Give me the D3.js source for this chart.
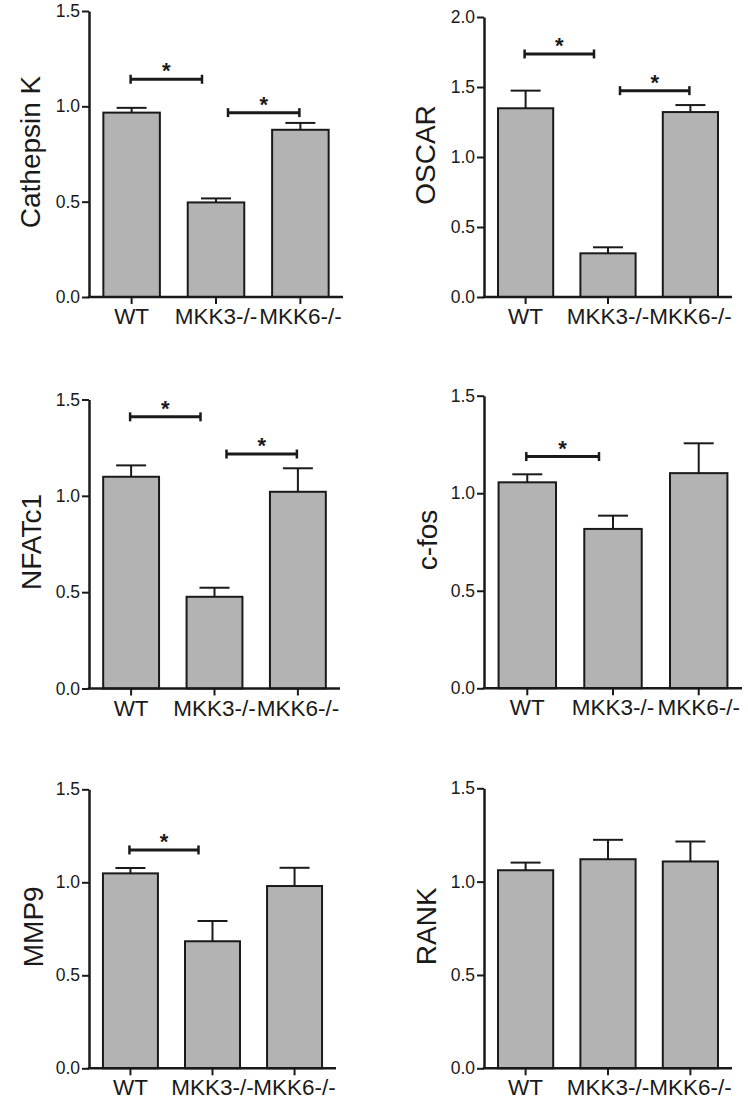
<!DOCTYPE html>
<html>
<head>
<meta charset="utf-8">
<script src="https://cdn.jsdelivr.net/npm/d3@7"></script>
<style>
  html, body { margin: 0; padding: 0; background: #fff; }
  svg { display: block; }
  text { font-family: "Liberation Sans", Arial, Helvetica, sans-serif; fill: #1a1a1a; }
</style>
</head>
<body>
<svg id="chart" width="748" height="1101"></svg>
<script>
// ---------------- DATA ----------------
const categories = ["WT", "MKK3-/-", "MKK6-/-"];
const genes = ["Cathepsin K", "OSCAR", "NFATc1", "c-fos", "MMP9", "RANK"];
const yMaxima = [1.5, 2.0, 1.5, 1.5, 1.5, 1.5];
const ticksLow = [0, 0.5, 1.0, 1.5];
const ticksHigh = [0, 0.5, 1.0, 1.5, 2.0];

const cathepsinKMean = [0.967, 0.496, 0.877];
const cathepsinKErr  = [0.025, 0.021, 0.036];
const oscarMean      = [1.348, 0.312, 1.321];
const oscarErr       = [0.126, 0.043, 0.050];
const nfatc1Mean     = [1.099, 0.476, 1.021];
const nfatc1Err      = [0.059, 0.047, 0.122];
const cfosMean       = [1.056, 0.817, 1.103];
const cfosErr        = [0.041, 0.068, 0.153];
const mmp9Mean       = [1.048, 0.683, 0.980];
const mmp9Err        = [0.029, 0.109, 0.098];
const rankMean       = [1.061, 1.120, 1.108];
const rankErr        = [0.041, 0.104, 0.107];

// significance brackets: [from category index, to category index, height value]
const cathepsinKSig = [[0, 1, 1.142], [1, 2, 0.967]];
const oscarSig      = [[0, 1, 1.736], [1, 2, 1.474]];
const nfatc1Sig     = [[0, 1, 1.410], [1, 2, 1.217]];
const cfosSig       = [[0, 1, 1.188]];
const mmp9Sig       = [[0, 1, 1.174]];
const rankSig       = [];

const meansAll = [cathepsinKMean, oscarMean, nfatc1Mean, cfosMean, mmp9Mean, rankMean];
const errsAll  = [cathepsinKErr, oscarErr, nfatc1Err, cfosErr, mmp9Err, rankErr];
const sigAll   = [cathepsinKSig, oscarSig, nfatc1Sig, cfosSig, mmp9Sig, rankSig];
const ticksAll = [ticksLow, ticksHigh, ticksLow, ticksLow, ticksLow, ticksLow];

// ---------------- LAYOUT ----------------
const boxes = [
  { l: 89,  r: 343, t: 11,    b: 297,    lab: 40 },
  { l: 484, r: 732, t: 17,    b: 297,    lab: 435 },
  { l: 89,  r: 340, t: 399.5, b: 688.5,  lab: 41 },
  { l: 484, r: 742, t: 395.7, b: 688.3,  lab: 437 },
  { l: 89,  r: 336, t: 789.3, b: 1068.3, lab: 43 },
  { l: 484, r: 732, t: 788.3, b: 1068.3, lab: 436 }
];

const ink = "#1a1a1a";
const svg = d3.select("#chart");

genes.forEach((gene, gi) => {
  const box = boxes[gi];
  const g = svg.append("g");

  const x = d3.scaleBand().domain(categories).range([box.l, box.r])
    .paddingInner(0.33).paddingOuter(0.17);
  const y = d3.scaleLinear().domain([0, yMaxima[gi]]).range([box.b, box.t]);
  const cx = c => x(c) + x.bandwidth() / 2;

  const rows = categories.map((c, i) => ({ c, m: meansAll[gi][i], e: errsAll[gi][i] }));

  // error bars (upper only)
  const eb = g.append("g").attr("stroke", ink).attr("stroke-width", 2);
  eb.selectAll("line.stem").data(rows).join("line")
    .attr("x1", d => cx(d.c)).attr("x2", d => cx(d.c))
    .attr("y1", d => y(d.m)).attr("y2", d => y(d.m + d.e));
  eb.selectAll("line.cap").data(rows).join("line")
    .attr("x1", d => cx(d.c) - 15).attr("x2", d => cx(d.c) + 15)
    .attr("y1", d => y(d.m + d.e)).attr("y2", d => y(d.m + d.e));

  // bars
  g.append("g").selectAll("rect").data(rows).join("rect")
    .attr("x", d => x(d.c)).attr("width", x.bandwidth())
    .attr("y", d => y(d.m)).attr("height", d => y(0) - y(d.m))
    .attr("fill", "#b3b3b3").attr("stroke", ink).attr("stroke-width", 2);

  // y axis
  const ya = g.append("g").attr("transform", `translate(${box.l},0)`)
    .call(d3.axisLeft(y).tickValues(ticksAll[gi]).tickFormat(d3.format(".1f"))
      .tickSize(7).tickSizeOuter(0).tickPadding(2));
  ya.select(".domain").attr("stroke", ink).attr("stroke-width", 2.5);
  ya.selectAll(".tick line").attr("stroke", ink).attr("stroke-width", 2);
  ya.selectAll(".tick text").attr("font-size", 17.5).attr("fill", "#222")
    .style("font-family", "'Liberation Sans', Arial, sans-serif");

  // x axis
  const xa = g.append("g").attr("transform", `translate(0,${box.b})`)
    .call(d3.axisBottom(x).tickSize(7).tickSizeOuter(0).tickPadding(0));
  xa.select(".domain").attr("stroke", ink).attr("stroke-width", 2.5)
    .attr("d", `M${box.l - 1.25},0H${box.r}`);
  xa.selectAll(".tick line").attr("stroke", ink).attr("stroke-width", 2);
  xa.selectAll(".tick text").attr("font-size", 22.5).attr("fill", "#222")
    .attr("dy", null).attr("y", 27)
    .style("font-family", "'Liberation Sans', Arial, sans-serif");

  // y label
  g.append("text")
    .attr("transform", `translate(${box.lab},${(box.t + box.b) / 2 - 2}) rotate(-90)`)
    .attr("text-anchor", "middle").attr("font-size", 28)
    .text(gene);

  // significance brackets
  sigAll[gi].forEach(([a, b, h]) => {
    const x1 = cx(categories[a]) + (a > 0 ? 12 : -1);
    const x2 = cx(categories[b]) - (b < categories.length - 1 ? 14 : 1);
    const yy = y(h);
    const sg = g.append("g").attr("stroke", ink);
    sg.append("line").attr("x1", x1).attr("x2", x2).attr("y1", yy).attr("y2", yy)
      .attr("stroke-width", 3);
    [x1, x2].forEach(xx => sg.append("line")
      .attr("x1", xx).attr("x2", xx).attr("y1", yy - 4.5).attr("y2", yy + 4.5)
      .attr("stroke-width", 2.5));
    g.append("text").attr("x", (x1 + x2) / 2).attr("y", yy - 1)
      .attr("text-anchor", "middle").attr("font-size", 22).attr("font-weight", "bold")
      .text("*");
  });
});
</script>
</body>
</html>
